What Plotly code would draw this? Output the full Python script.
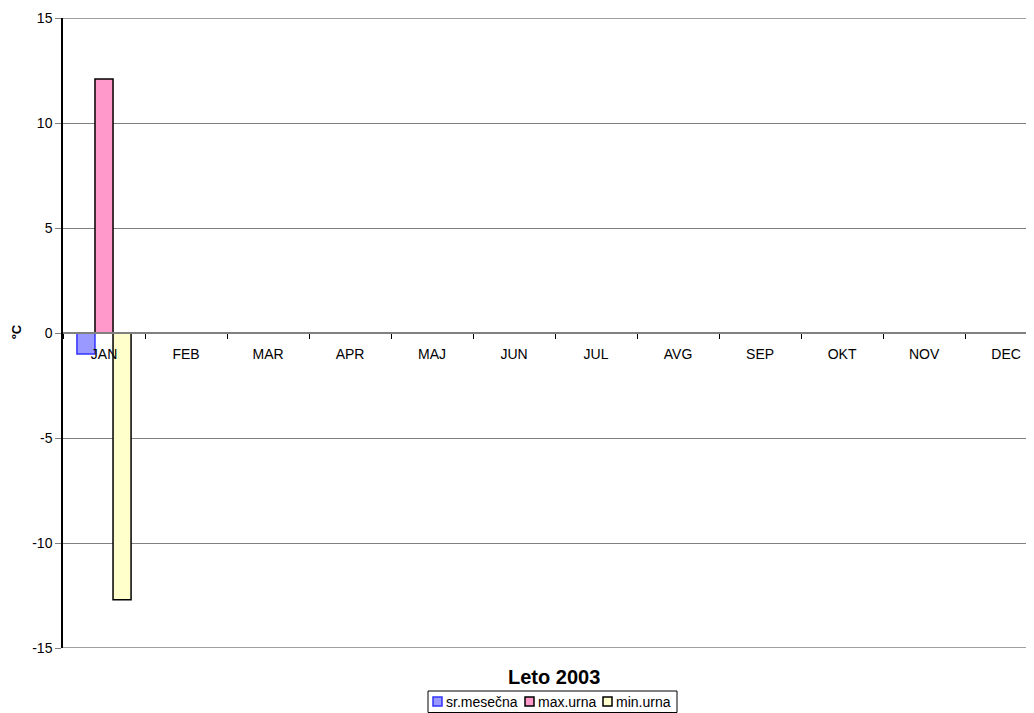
import plotly.graph_objects as go

months = ["JAN", "FEB", "MAR", "APR", "MAJ", "JUN", "JUL", "AVG", "SEP", "OKT", "NOV", "DEC"]
sr_mesecna = [-1.0, None, None, None, None, None, None, None, None, None, None, None]
max_urna = [12.1, None, None, None, None, None, None, None, None, None, None, None]
min_urna = [-12.7, None, None, None, None, None, None, None, None, None, None, None]
y_ticks = [15, 10, 5, 0, -5, -10, -15]
y_tick_text = ["15", "10", "5", "0", "-5", "-10", "-15"]

series_names = ["sr.mesečna", "max.urna", "min.urna"]
fills = ["#9999FF", "#FF99CC", "#FFFFCC"]
borders = ["#3333FF", "#000000", "#000000"]

font_family = "Liberation Sans, Arial, sans-serif"

# the page body has an 8px default margin; lay out in screen pixels and shift
OFF = 8
W, H = 1034 - OFF, 713 - OFF
L, R, T, B = 63 - OFF, 0, 18 - OFF, 713 - 648
PW, PH = W - L - R, H - T - B


def px(x):
    return (x - OFF - L) / PW


def py(y):
    return (H - B - (y - OFF)) / PH


fig = go.Figure()
for name, vals, fc, lc in zip(series_names, [sr_mesecna, max_urna, min_urna], fills, borders):
    fig.add_trace(go.Bar(x=months, y=vals, name=name, showlegend=False,
                         marker=dict(color=fc, line=dict(color=lc, width=1.5))))

shapes = [
    dict(type="line", xref="paper", yref="y", x0=0, x1=1, y0=15, y1=15,
         line=dict(color="#808080", width=1.5), layer="below"),
    dict(type="line", xref="paper", yref="y", x0=0, x1=1, y0=-15, y1=-15,
         line=dict(color="#808080", width=1.5), layer="below"),
    # legend box
    dict(type="rect", xref="paper", yref="paper", x0=px(428), x1=px(677), y0=py(691), y1=py(712.5),
         line=dict(color="black", width=1), fillcolor="white"),
]
annotations = [
    dict(text="<b>Leto 2003</b>", x=px(554), y=py(677), xref="paper", yref="paper",
         xanchor="center", yanchor="middle", showarrow=False, font=dict(size=20)),
    dict(text="<b>ºC</b>", x=px(16), y=py(332), xref="paper", yref="paper",
         xanchor="center", yanchor="middle", textangle=-90, showarrow=False,
         font=dict(size=13)),
]
sq_x = [433, 525, 603]
for name, fc, lc, sx in zip(series_names, fills, borders, sq_x):
    shapes.append(dict(type="rect", xref="paper", yref="paper",
                       x0=px(sx), x1=px(sx + 9), y0=py(697), y1=py(706),
                       line=dict(color=lc, width=1.5), fillcolor=fc))
    annotations.append(dict(text=name, x=px(sx + 11), y=py(701.5), xref="paper", yref="paper",
                            xanchor="left", yanchor="middle", showarrow=False,
                            font=dict(size=14)))

fig.update_layout(
    width=W, height=H,
    margin=dict(l=L, r=R, t=T, b=B, autoexpand=False),
    paper_bgcolor="white", plot_bgcolor="white",
    barmode="group", bargap=0.34, bargroupgap=0,
    font=dict(family=font_family, size=14, color="black"),
    showlegend=False,
    xaxis=dict(type="category", range=[-0.5, 11.34], anchor="free", position=0.5,
               showline=True, linecolor="#808080", linewidth=1.5, automargin=False,
               ticks="outside", tickson="boundaries", ticklen=5, tickcolor="#000000",
               ticklabelstandoff=8,
               showgrid=False, zeroline=False, tickfont=dict(size=14)),
    yaxis=dict(range=[-15, 15], tickvals=y_ticks, ticktext=y_tick_text, showgrid=True,
               gridcolor="#808080", automargin=False,
               gridwidth=1, showline=True, linecolor="black", linewidth=1.5,
               ticks="outside", ticklen=6, tickcolor="#808080", zeroline=False,
               tickfont=dict(size=14)),
    shapes=shapes,
    annotations=annotations,
)

fig.write_html("out.html")
